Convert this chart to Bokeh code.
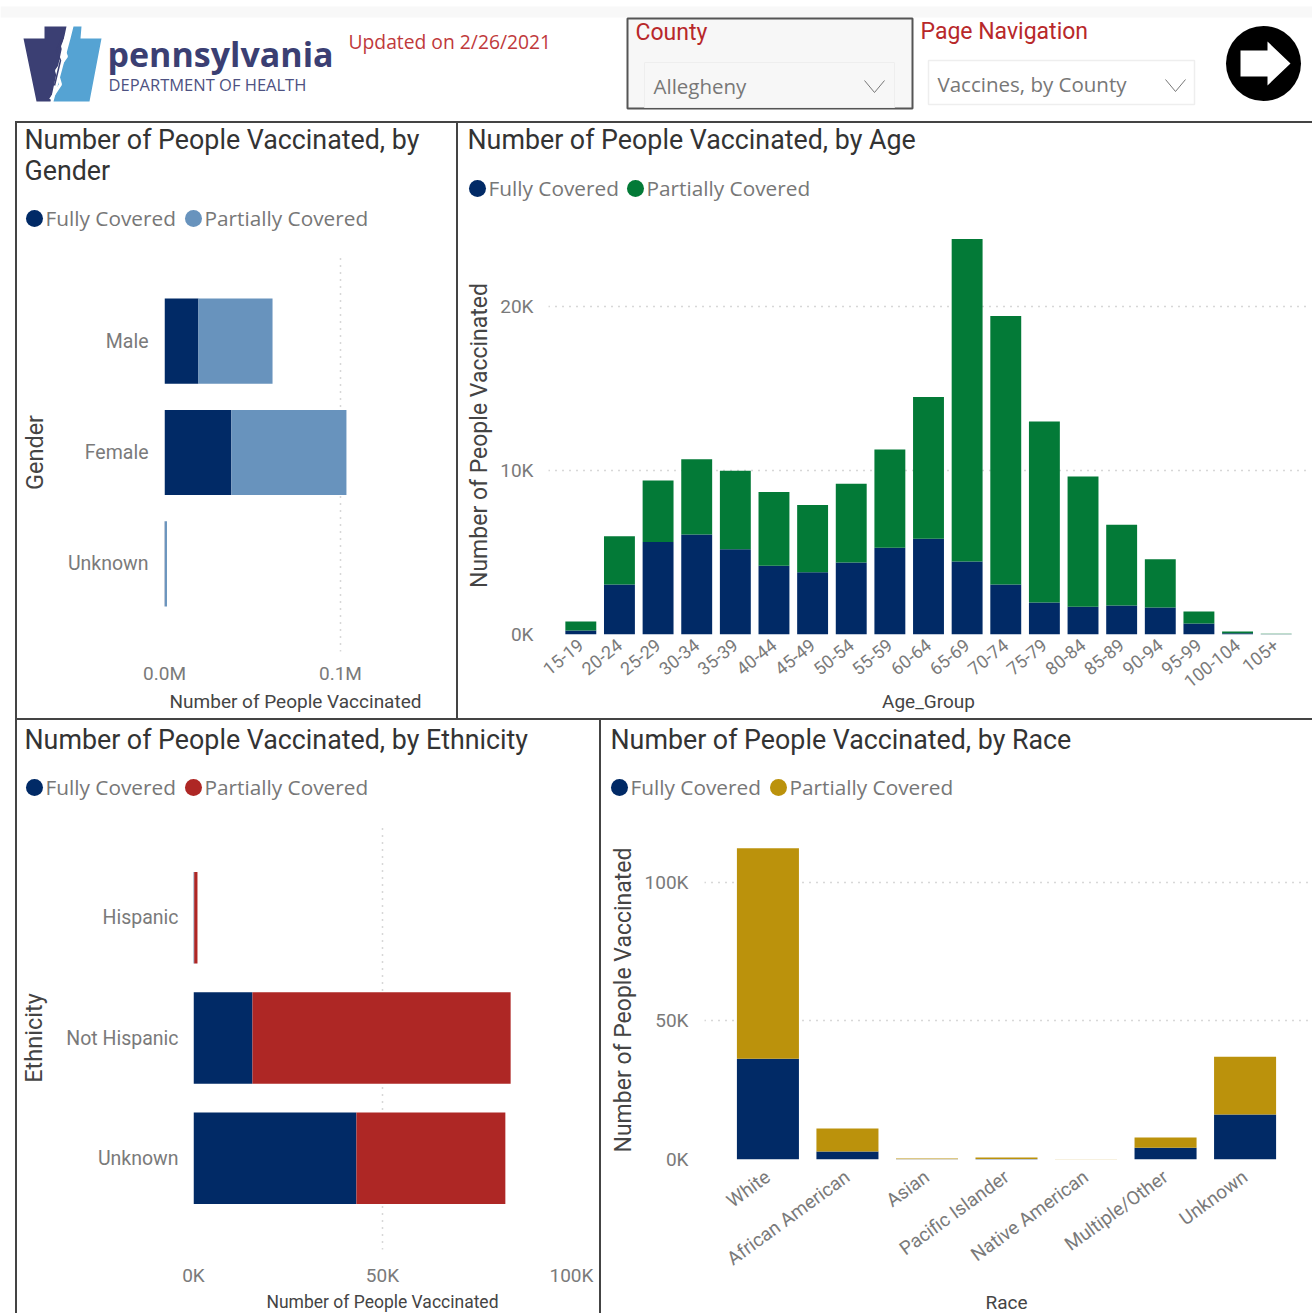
from bokeh.plotting import figure
from bokeh.layouts import column, row
from bokeh.models import ColumnDataSource, FactorRange, Range1d, FixedTicker, Spacer
from bokeh.core.properties import value
from bokeh.embed import file_html
from bokeh.resources import INLINE

# ---------- data ----------
gender_cats = ["Unknown", "Female", "Male"]
gender_full = [300, 38000, 19300]
gender_part = [1100, 65400, 42100]

age_cats = ["15-19", "20-24", "25-29", "30-34", "35-39", "40-44", "45-49", "50-54", "55-59", "60-64",
            "65-69", "70-74", "75-79", "80-84", "85-89", "90-94", "95-99", "100-104", "105+"]
age_full = [250, 3050, 5650, 6100, 5200, 4200, 3800, 4400, 5300, 5850, 4450, 3050, 1950, 1700, 1770, 1650, 670, 80, 10]
age_part = [550, 2950, 3750, 4600, 4800, 4500, 4100, 4800, 6000, 8650, 19700, 16400, 11050, 7950, 4930, 2950, 730, 100, 30]

eth_cats = ["Unknown", "Not Hispanic", "Hispanic"]
eth_full = [43100, 15600, 200]
eth_part = [39400, 68300, 850]

race_cats = ["White", "African American", "Asian", "Pacific Islander", "Native American", "Multiple/Other", "Unknown"]
race_full = [36300, 2900, 100, 150, 10, 4200, 16200]
race_part = [75900, 8300, 300, 550, 40, 3700, 20800]

series_names = ["Fully Covered", "Partially Covered"]
NAVY, LBLUE, GREEN, RED, GOLD = "#012A66", "#6893BD", "#037A37", "#AE2725", "#BB920C"
LINE = "#444444"

TITLE_FONT = "Roboto"
UI_FONT = "Open Sans"


def strip(ox, oy, w, h, title_lines, title_x, title_ys, legend_y, dots, colors):
    s = figure(frame_width=w, frame_height=h, width=w, height=h, x_range=Range1d(ox, ox + w),
               y_range=Range1d(oy + h, oy), output_backend="svg", title=None, toolbar_location=None,
               min_border=0, outline_line_color=None, x_axis_location=None, y_axis_location=None)
    s.grid.grid_line_color = None
    s.text([title_x] * len(title_lines), title_ys, text=title_lines, text_font=value(TITLE_FONT),
           text_font_size="26.8px", text_color="#333333", text_baseline="middle")
    for dx, name, col in zip(dots, series_names, colors):
        s.scatter([dx], [legend_y], size=17, color=col, line_width=0)
        s.text([dx + 11], [legend_y - 1], text=[name], text_font=value(UI_FONT), text_font_size="20.8px",
               text_color="#777777", text_baseline="middle")
    return s


def style_axis(ax):
    ax.axis_line_color = None
    ax.major_tick_line_color = None
    ax.minor_tick_line_color = None
    ax.major_label_text_font = TITLE_FONT
    ax.major_label_text_font_size = "19px"
    ax.major_label_text_color = "#7a7a7a"
    ax.axis_label_text_font = TITLE_FONT
    ax.axis_label_text_font_style = "normal"
    ax.axis_label_text_color = "#444444"


def chart(frame, borders, x_range, y_range, xlabel, ylabel, ylab_size, ylab_standoff, ytick_standoff,
          xtitle_size, xtitle_standoff, xtick_standoff):
    fw, fh = frame
    l, r, b = borders
    p = figure(frame_width=fw, frame_height=fh, width=l + fw + r, height=fh + b, x_range=x_range, y_range=y_range,
               output_backend="svg", title=None, toolbar_location=None, min_border_left=l, min_border_right=r,
               min_border_top=0, min_border_bottom=b, outline_line_color=None)
    p.xaxis.axis_label = xlabel
    p.yaxis.axis_label = ylabel
    style_axis(p.xaxis[0])
    style_axis(p.yaxis[0])
    p.yaxis.axis_label_text_font_size = f"{ylab_size}px"
    p.yaxis.axis_label_standoff = ylab_standoff
    p.yaxis.major_label_standoff = ytick_standoff
    p.xaxis.axis_label_text_font_size = f"{xtitle_size}px"
    p.xaxis.axis_label_standoff = xtitle_standoff
    p.xaxis.major_label_standoff = xtick_standoff
    p.grid.grid_line_color = None
    return p


def hbars(p, cats, full, part, colors, height):
    src = ColumnDataSource(dict(cat=cats, full=full, part=part))
    p.hbar_stack(["full", "part"], y="cat", height=height, color=colors, source=src, line_width=0)
    g = p.xgrid[0]
    g.grid_line_color = "#b0b0b0"
    g.grid_line_dash = "1 6"
    g.grid_line_width = 1.5
    p.yaxis.major_label_text_font_size = "19.5px"


def vbars(p, cats, full, part, colors, width, angle):
    src = ColumnDataSource(dict(cat=cats, full=full, part=part))
    p.vbar_stack(["full", "part"], x="cat", width=width, color=colors, source=src, line_width=0)
    g = p.ygrid[0]
    g.grid_line_color = "#b0b0b0"
    g.grid_line_dash = "1 6"
    g.grid_line_width = 1.5
    p.xaxis.major_label_orientation = angle


def vline(h):
    return Spacer(width=2, height=h, styles={"background-color": LINE})


def hline(w):
    return row(Spacer(width=15, height=2), Spacer(width=w, height=2, styles={"background-color": LINE}), spacing=0)


# ---------- header ----------
H = figure(width=1312, height=121, frame_width=1312, frame_height=121, x_range=Range1d(0, 1312),
           y_range=Range1d(121, 0), output_backend="svg", title=None,
           toolbar_location=None, min_border=0, outline_line_color=None, x_axis_location=None, y_axis_location=None)
H.grid.grid_line_color = None
H.quad(left=[0], right=[1312], top=[6], bottom=[17], color="#f8f8f8", line_width=0)
H.patch([23, 44, 44, 66, 50, 36], [38, 38, 26, 26, 101, 101], color="#3B3F73", line_width=0)
H.patch([73, 81, 80, 101, 89, 53, 70], [26, 26, 38, 38, 101, 101, 38], color="#55A3D3", line_width=0)
H.line([69, 62, 66, 56, 60, 50], [28, 46, 56, 70, 84, 99], color="white", line_width=3)
H.line([62, 56, 60, 54], [36, 50, 60, 85], color="#3B3F73", line_width=1.5)
H.text([107], [53], text=["pennsylvania"], text_font=value(UI_FONT), text_font_style="bold",
       text_font_size="34px", text_color="#3B3F73", text_baseline="middle")
H.text([108], [84], text=["DEPARTMENT OF HEALTH"], text_font=value(UI_FONT),
       text_font_size="16.5px", text_color="#4E5282", text_baseline="middle")
H.text([348], [41], text=["Updated on 2/26/2021"], text_font=value(UI_FONT), text_font_size="19.3px",
       text_color="#C0393B", text_baseline="middle")
H.quad(left=[627], right=[912], top=[18], bottom=[108], fill_color="#f7f7f7", line_color="#555555", line_width=2)
H.quad(left=[644], right=[894], top=[62], bottom=[107], fill_color="#f7f7f7", line_color="#eeeeee", line_width=1)
H.text([635], [32], text=["County"], text_font=value(TITLE_FONT), text_font_size="23px",
       text_color="#B8282A", text_baseline="middle")
H.text([653], [85], text=["Allegheny"], text_font=value(UI_FONT), text_font_size="20.5px",
       text_color="#777777", text_baseline="middle")
H.line([864, 874, 884], [80, 92, 80], color="#777777", line_width=1)
H.text([920], [31], text=["Page Navigation"], text_font=value(TITLE_FONT), text_font_size="23px",
       text_color="#B8282A", text_baseline="middle")
H.quad(left=[928], right=[1194], top=[60], bottom=[104], fill_color="white", line_color="#eeeeee", line_width=1.5)
H.text([937], [83], text=["Vaccines, by County"], text_font=value(UI_FONT), text_font_size="20.5px",
       text_color="#777777", text_baseline="middle")
H.line([1165, 1175, 1185], [79, 91, 79], color="#777777", line_width=1)
H.scatter([1263], [63], size=75, color="black", line_width=0)
H.patch([1240, 1267, 1267, 1290, 1267, 1267, 1240], [50, 50, 41, 63, 85, 76, 76], color="white", line_width=0)

# ---------- gender ----------
sg = strip(17, 123, 439, 130, ["Number of People Vaccinated, by", "Gender"], 24, [139, 170], 218, [34, 193],
           [NAVY, LBLUE])
pg = chart((262, 398), (147, 30, 67), Range1d(0, 148900),
           FactorRange(factors=gender_cats, range_padding=64 / 333),
           "Number of People Vaccinated", "Gender", 23.5, 16, 10, 19, 2, 4)
hbars(pg, gender_cats, gender_full, gender_part, [NAVY, LBLUE], 0.766)
pg.xaxis.ticker = FixedTicker(ticks=[0, 100000])
pg.xaxis.major_label_overrides = {0: "0.0M", 100000: "0.1M"}

# ---------- age ----------
sa = strip(458, 123, 854, 113, ["Number of People Vaccinated, by Age"], 467, [139], 188, [477, 635], [NAVY, GREEN])
pa = chart((760, 398), (90, 4, 84), FactorRange(factors=age_cats, range_padding=26 / 734), Range1d(0, 24300),
           "Age_Group", "Number of People Vaccinated", 23, 4, 9, 19, -7, 2)
vbars(pa, age_cats, age_full, age_part, [NAVY, GREEN], 0.8, 0.68)
pa.xaxis.major_label_text_font_size = "18px"
pa.yaxis.ticker = FixedTicker(ticks=[0, 10000, 20000])
pa.yaxis.major_label_overrides = {0: "0K", 10000: "10K", 20000: "20K"}

# ---------- ethnicity ----------
se = strip(17, 720, 582, 106, ["Number of People Vaccinated, by Ethnicity"], 24, [739], 787, [34, 193], [NAVY, RED])
pe = chart((378, 423), (176, 28, 64), Range1d(0, 100000),
           FactorRange(factors=eth_cats, range_padding=62 / 361.5),
           "Number of People Vaccinated", "Ethnicity", 23.5, 15, 9, 17.5, 2, 8)
hbars(pe, eth_cats, eth_full, eth_part, [NAVY, RED], 0.76)
pe.xaxis.ticker = FixedTicker(ticks=[0, 50000, 100000])
pe.xaxis.major_label_overrides = {0: "0K", 50000: "50K", 100000: "100K"}

# ---------- race ----------
sr = strip(601, 720, 711, 120, ["Number of People Vaccinated, by Race"], 610, [739], 787, [619, 778], [NAVY, GOLD])
pr = chart((604, 319), (103, 4, 154), FactorRange(factors=race_cats, range_padding=0.085), Range1d(0, 115000),
           "Race", "Number of People Vaccinated", 23, 5, 10, 19, 9, 9)
vbars(pr, race_cats, race_full, race_part, [NAVY, GOLD], 0.78, 0.63)
pr.yaxis.ticker = FixedTicker(ticks=[0, 50000, 100000])
pr.yaxis.major_label_overrides = {0: "0K", 50000: "50K", 100000: "100K"}


def stack(a, b):
    return column(row(a), row(b), spacing=0)


layout = column(
    H,
    hline(1297),
    row(Spacer(width=15, height=595), vline(595), stack(sg, pg), vline(595), stack(sa, pa), spacing=0),
    hline(1297),
    row(Spacer(width=15, height=593), vline(593), stack(se, pe), vline(593), stack(sr, pr), spacing=0),
    spacing=0,
)
open("out.html", "w").write(file_html(layout, INLINE))
